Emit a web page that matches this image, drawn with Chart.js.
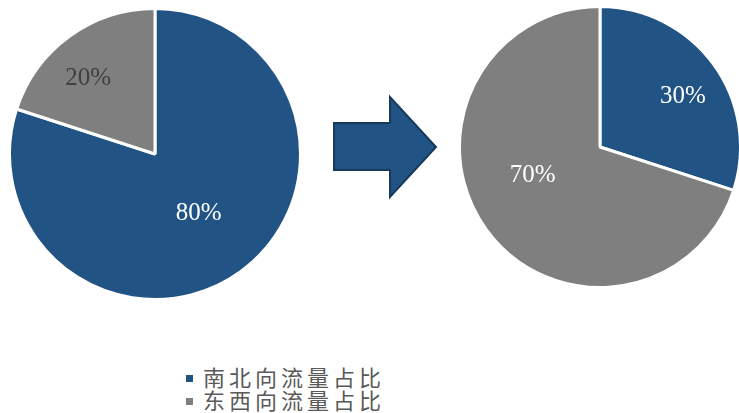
<!DOCTYPE html>
<html>
<head>
<meta charset="utf-8">
<script src="https://cdn.jsdelivr.net/npm/chart.js@4/dist/chart.umd.min.js"></script>
<style>
  body { margin: 0; background: #fff; width: 739px; height: 413px; position: relative; overflow: hidden; }
  .pie { position: absolute; }
  #arrow { position: absolute; left: 330px; top: 94px; }
  #legend { position: absolute; left: 186px; top: 365px; font-family: "Noto Sans CJK SC", sans-serif; font-size: 22px; color: #595959; line-height: 23px; letter-spacing: 4px; }
  #legend div { height: 23px; }
  #legend span.box { display: inline-block; width: 7px; height: 7px; margin-right: 10px; vertical-align: 4px; }
</style>
</head>
<body>
<div class="pie" style="left:8px;top:7px;width:294px;height:294px"><canvas id="leftPie"></canvas></div>
<svg id="arrow" width="112" height="108">
  <polygon points="4,29 60,29 60,3 106,53 60,103 60,76 4,76" fill="#215484" stroke="#17395a" stroke-width="2" stroke-linejoin="miter"/>
</svg>
<div class="pie" style="left:458px;top:5px;width:284px;height:284px"><canvas id="rightPie"></canvas></div>
<div id="legend"></div>

<script>
const categories = ["南北向流量占比", "东西向流量占比"];
const beforeValues = [80, 20];
const afterValues = [30, 70];
const colors = ["#215484", "#7f7f7f"];

// label anchor for each slice, as a fraction of the radius from the centre
const labelSpots = {
  leftPie: [[0.30, 0.41], [-0.46, -0.52]],
  rightPie: [[0.59, -0.36], [-0.48, 0.20]],
};
const labelColors = {
  leftPie: ["#ffffff", "#404040"],
  rightPie: ["#ffffff", "#ffffff"],
};

const sliceLabels = {
  id: "sliceLabels",
  afterDatasetsDraw(chart) {
    const { ctx } = chart;
    const meta = chart.getDatasetMeta(0);
    const id = chart.canvas.id;
    ctx.save();
    ctx.font = '25px "Liberation Serif", "Times New Roman", serif';
    ctx.textAlign = "center";
    ctx.textBaseline = "middle";
    meta.data.forEach((arc, i) => {
      const [fx, fy] = labelSpots[id][i];
      ctx.fillStyle = labelColors[id][i];
      ctx.fillText(chart.data.datasets[0].data[i] + "%", arc.x + fx * arc.outerRadius, arc.y + fy * arc.outerRadius);
    });
    ctx.restore();
  },
};

function createPie(canvasId, values) {
  return new Chart(document.getElementById(canvasId), {
    type: "pie",
    data: {
      labels: categories,
      datasets: [{
        data: values,
        backgroundColor: colors,
        borderColor: "#ffffff",
        borderWidth: 3,
        hoverOffset: 0,
        offset: 0,
      }],
    },
    options: {
      responsive: true,
      maintainAspectRatio: false,
      animation: false,
      layout: { padding: 0 },
      plugins: {
        legend: { display: false },
        tooltip: { enabled: false },
      },
    },
    plugins: [sliceLabels],
  });
}

createPie("leftPie", beforeValues);
createPie("rightPie", afterValues);

const legend = document.getElementById("legend");
categories.forEach((name, i) => {
  const row = document.createElement("div");
  row.innerHTML = '<span class="box" style="background:' + colors[i] + '"></span>' + name;
  legend.appendChild(row);
});
</script>
</body>
</html>
